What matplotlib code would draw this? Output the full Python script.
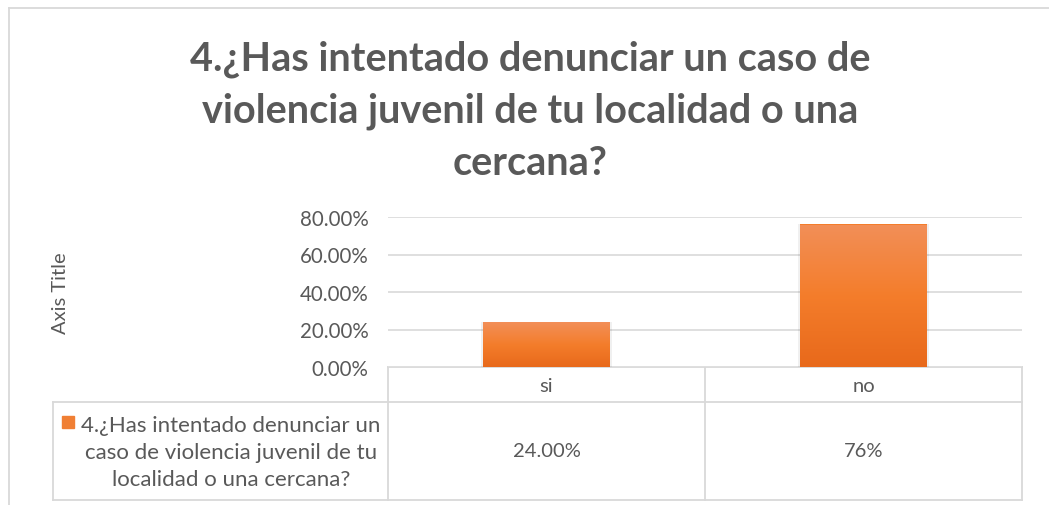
import matplotlib
matplotlib.use("Agg")
import matplotlib.pyplot as plt
import numpy as np
from matplotlib.lines import Line2D
from matplotlib.colors import LinearSegmentedColormap

categories = ["si", "no"]
values = [0.24, 0.76]
value_labels = ["24.00%", "76%"]
yticks = [0.0, 0.2, 0.4, 0.6, 0.8]
series_name = "4.¿Has intentado denunciar un\ncaso de violencia juvenil de tu\nlocalidad o una cercana?"
title = "4.¿Has intentado denunciar un caso de\nviolencia juvenil de tu localidad o una\ncercana?"

W, H = 1049, 506
TXT = "#595959"
GRID = "#d9d9d9"
plt.rcParams["font.family"] = ["Lato", "DejaVu Sans"]

fig = plt.figure(figsize=(W / 100, H / 100), dpi=100)
fig.patch.set_facecolor("white")

def fx(px): return px / W
def fy(py): return 1 - py / H

# plot area: x 388..1022, y 218 (80%) .. 368 (0%)
L, R, T, B = 388, 1022, 218, 368
ax = fig.add_axes([fx(L), fy(B), fx(R) - fx(L), fy(T) - fy(B)])
ax.set_xlim(-0.5, 1.5)
ax.set_ylim(0, 0.8)
for s in ax.spines.values():
    s.set_visible(False)
ax.set_yticks(yticks)
ax.set_yticklabels([f"{v*100:.2f}%" for v in yticks], fontsize=14.8, color=TXT)
ax.tick_params(axis="y", length=0, pad=14)
ax.set_xticks([])
ax.yaxis.grid(True, color=GRID, lw=1.2)
ax.set_axisbelow(True)
ax.set_ylabel("Axis Title", fontsize=14.5, color=TXT, labelpad=166)

cmap = LinearSegmentedColormap.from_list("og", ["#e8691b", "#f47d2b", "#f28f58"])
grad = np.linspace(0, 1, 256).reshape(-1, 1)
bars = ax.bar(range(len(categories)), values, width=0.4, color="#f47d2b", zorder=2)
for b in bars:
    x0, y0, w, h = b.get_x(), b.get_y(), b.get_width(), b.get_height()
    im = ax.imshow(grad, cmap=cmap, aspect="auto", origin="lower",
                   extent=[x0, x0 + w, y0, y0 + h], zorder=3)
    im.set_clip_path(b)
    # soft shadow
    ax.bar(b.get_x() + w / 2, h + 0.006, width=w + 0.012, bottom=-0.006,
           color="#000000", alpha=0.06, zorder=1.5)
ax.set_xlim(-0.5, 1.5)
ax.set_ylim(0, 0.8)

# overlay for table and frame, pixel coordinates
ov = fig.add_axes([0, 0, 1, 1], zorder=-1)
ov.set_xlim(0, W)
ov.set_ylim(H, 0)
ov.axis("off")

def line(x0, y0, x1, y1, c=GRID, lw=1.3):
    ov.add_line(Line2D([x0, x1], [y0, y1], color=c, lw=lw))

# chart frame
line(9, 9, W, 9)
line(9, 9, 9, H)

# data table
row1, row2, bot = B, 403, 501
leg_l = 53
ncat = len(categories)
colw = (R - L) / ncat
line(L, row1, R, row1)
line(leg_l, row2, R, row2)
line(leg_l, bot, R, bot)
line(leg_l, row2, leg_l, bot)
for i in range(ncat + 1):
    line(L + i * colw, row1, L + i * colw, bot)
for i, (c, v) in enumerate(zip(categories, value_labels)):
    cx = L + (i + 0.5) * colw
    ov.text(cx, (row1 + row2) / 2 + 1, c, ha="center", va="center", fontsize=14.5, color=TXT)
    ov.text(cx, (row2 + bot) / 2, v, ha="center", va="center", fontsize=14.5, color=TXT)

# legend key
ov.add_patch(plt.Rectangle((62, 417), 12, 12, color="#f07f34"))
ov.text(231, (row2 + bot) / 2 + 1, series_name, ha="center", va="center",
        fontsize=16, color=TXT, linespacing=1.45)

fig.text(fx(530), fy(111), title, ha="center", va="center", fontsize=28.5,
         fontweight="bold", color=TXT, linespacing=1.5)

fig.savefig("out.png", dpi=100, facecolor="white")
